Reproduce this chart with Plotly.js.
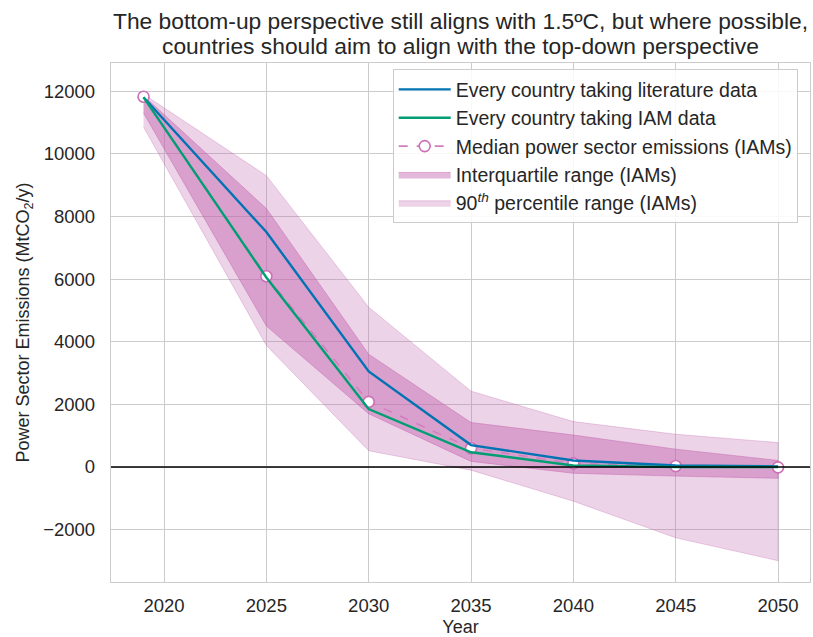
<!DOCTYPE html>
<html>
<head>
<meta charset="utf-8">
<script src="https://cdn.plot.ly/plotly-3.0.1.min.js"></script>
<style>html,body{margin:0;padding:0;background:#fff;}#chart{width:813px;height:637px;}</style>
</head>
<body>
<div id="chart"></div>
<script>
const years = [2019, 2025, 2030, 2035, 2040, 2045, 2050];
const literature = [11800, 7500, 3050, 700, 210, 50, 20];
const iamData = [11800, 6050, 1850, 470, 50, 0, 0];
const median = [11820, 6090, 2080, 600, 117, 30, -10];
const iqrUpper = [11850, 8250, 3600, 1420, 1020, 570, 210];
const iqrLower = [11300, 4500, 1700, 180, -200, -290, -360];
const p90Upper = [11900, 9300, 5100, 2420, 1450, 1045, 780];
const p90Lower = [10850, 3880, 520, -100, -1090, -2260, -2990];
const xTicks = [2020, 2025, 2030, 2035, 2040, 2045, 2050];
const yTicks = [-2000, 0, 2000, 4000, 6000, 8000, 10000, 12000];
const titleLines = ['The bottom-up perspective still aligns with 1.5ºC, but where possible,',
                    'countries should aim to align with the top-down perspective'];

const bandX = years.concat(years.slice().reverse());
const font = 'Liberation Sans, Arial, sans-serif';
const txt = '#262626';

const traces = [
  {x: bandX, y: p90Upper.concat(p90Lower.slice().reverse()), type: 'scatter', mode: 'lines',
   fill: 'toself', fillcolor: 'rgba(192,98,172,0.28)', line: {color: 'rgba(192,98,172,0.3)', width: 1},
   name: '90<sup><i>th</i></sup> percentile range (IAMs)', legendrank: 5, hoverinfo: 'skip'},
  {x: bandX, y: iqrUpper.concat(iqrLower.slice().reverse()), type: 'scatter', mode: 'lines',
   fill: 'toself', fillcolor: 'rgba(192,98,172,0.45)', line: {color: 'rgba(192,98,172,0.45)', width: 1},
   name: 'Interquartile range (IAMs)', legendrank: 4, hoverinfo: 'skip'},
  {x: years, y: median, type: 'scatter', mode: 'lines+markers',
   line: {color: '#d27fc0', width: 1.6, dash: 'dash'},
   marker: {symbol: 'circle', size: 11, color: '#ffffff', line: {color: '#cc6fb6', width: 1.6}},
   name: 'Median power sector emissions (IAMs)', legendrank: 3},
  {x: years, y: literature, type: 'scatter', mode: 'lines',
   line: {color: '#0173b2', width: 2.4}, name: 'Every country taking literature data', legendrank: 1},
  {x: years, y: iamData, type: 'scatter', mode: 'lines',
   line: {color: '#029e73', width: 2.4}, name: 'Every country taking IAM data', legendrank: 2}
];

const layout = {
  width: 813, height: 637,
  margin: {l: 111, r: 3, t: 63, b: 55},
  paper_bgcolor: '#ffffff', plot_bgcolor: '#ffffff',
  font: {family: font, color: txt, size: 18},
  showlegend: true,
  legend: {x: 0.403, y: 0.988, xanchor: 'left', yanchor: 'top', bgcolor: 'rgba(255,255,255,0.85)',
           bordercolor: '#cccccc', borderwidth: 1, font: {family: font, size: 19.5, color: txt},
           itemwidth: 52, tracegroupgap: 0},
  xaxis: {range: [2017.41, 2051.56], tickmode: 'array', tickvals: xTicks, ticktext: xTicks.map(String),
          showgrid: true, gridcolor: '#cccccc', gridwidth: 1, zeroline: false,
          showline: true, mirror: true, linecolor: '#cccccc', linewidth: 1.2,
          ticks: '', ticklabelstandoff: 7, tickfont: {family: font, size: 18.5, color: txt},
          title: {text: 'Year', font: {family: font, size: 18, color: txt}, standoff: 5}},
  yaxis: {range: [-3670, 12895], tickmode: 'array', tickvals: yTicks, ticktext: yTicks.map(v => v < 0 ? '\u2212' + Math.abs(v) : String(v)),
          showgrid: true, gridcolor: '#cccccc', gridwidth: 1, zeroline: false,
          showline: true, mirror: true, linecolor: '#cccccc', linewidth: 1.2,
          ticks: '', ticklabelstandoff: 11, tickfont: {family: font, size: 18.5, color: txt},
          title: {text: 'Power Sector Emissions (MtCO<sub>2</sub>/y)', font: {family: font, size: 18, color: txt}, standoff: 8}},
  annotations: [
    {text: titleLines[0], xref: 'paper', yref: 'paper', x: 0.5, y: 1, xanchor: 'center', yanchor: 'middle',
     yshift: 42, showarrow: false, font: {family: font, size: 22.8, color: txt}},
    {text: titleLines[1], xref: 'paper', yref: 'paper', x: 0.5, y: 1, xanchor: 'center', yanchor: 'middle',
     yshift: 17, showarrow: false, font: {family: font, size: 22.8, color: txt}}
  ],
  shapes: [{type: 'line', xref: 'paper', x0: 0, x1: 1, yref: 'y', y0: 0, y1: 0,
            line: {color: '#000000', width: 1.6}, layer: 'above'}]
};

Plotly.newPlot('chart', traces, layout, {displayModeBar: false, staticPlot: true});
</script>
</body>
</html>
